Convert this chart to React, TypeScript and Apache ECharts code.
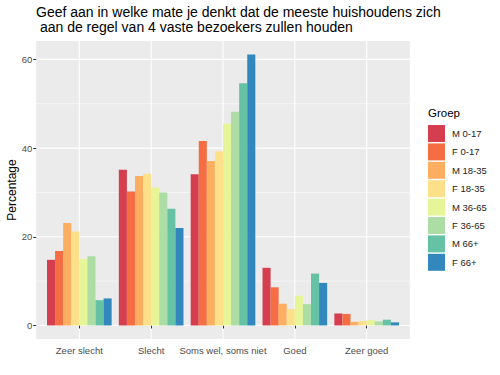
import React, { useEffect, useRef } from "react";
import * as echarts from "echarts";

const categories = ["Zeer slecht", "Slecht", "Soms wel, soms niet", "Goed", "Zeer goed"];
const groups = ["M 0-17", "F 0-17", "M 18-35", "F 18-35", "M 36-65", "F 36-65", "M 66+", "F 66+"];
const palette = ["#D53E4F", "#F46D43", "#FDAE61", "#FEE08B", "#E6F598", "#ABDDA4", "#66C2A5", "#3288BD"];

const m0_17 = [14.8, 35.1, 34.1, 13.0, 2.7];
const f0_17 = [16.8, 30.2, 41.6, 8.6, 2.6];
const m18_35 = [23.1, 33.7, 37.1, 4.9, 0.8];
const f18_35 = [21.2, 34.2, 39.3, 3.7, 1.0];
const m36_65 = [15.0, 31.1, 45.5, 6.7, 1.2];
const f36_65 = [15.6, 30.0, 48.2, 4.8, 0.9];
const m66 = [5.7, 26.3, 54.6, 11.7, 1.3];
const f66 = [6.1, 22.0, 61.1, 9.6, 0.7];

const seriesValues = [m0_17, f0_17, m18_35, f18_35, m36_65, f36_65, m66, f66];

const yMajorTicks = [0, 20, 40, 60];
const yMinorTicks = [10, 30, 50];

const titleLine1 = "Geef aan in welke mate je denkt dat de meeste huishoudens zich";
const titleLine2 = "\u00a0aan de regel van 4 vaste bezoekers zullen houden";
const yTitle = "Percentage";
const legendTitle = "Groep";

const FONT = "'Liberation Sans', Arial, Helvetica, sans-serif";

export default function App() {
  const ref = useRef<HTMLDivElement>(null);

  useEffect(() => {
    document.body.style.margin = "0";
    if (!ref.current) return;
    const chart = echarts.init(ref.current, undefined, { renderer: "svg" });

    const maxVal = Math.max(...seriesValues.flat());
    const pad = maxVal * 0.05;
    const yMin = -pad;
    const yMax = maxVal + pad;

    const gridLeft = 43.4;
    const gridWidth = 359.2;
    const band = gridWidth / categories.length;

    chart.setOption({
      animation: false,
      backgroundColor: "#ffffff",
      textStyle: { fontFamily: FONT },
      grid: { left: gridLeft, width: gridWidth, top: 41, height: 298, containLabel: false },
      xAxis: {
        type: "category",
        data: categories,
        axisLine: { show: false },
        axisTick: { show: true, alignWithLabel: true, length: 3, lineStyle: { color: "#333333", width: 1 } },
        axisLabel: { color: "#4D4D4D", fontSize: 9.5, margin: 6, fontFamily: FONT, interval: 0 },
        splitLine: { show: false },
      },
      yAxis: {
        type: "value",
        min: yMin,
        max: yMax,
        offset: band * 0.1,
        axisLine: { show: false },
        axisTick: { show: true, length: 3, customValues: yMajorTicks, lineStyle: { color: "#333333", width: 1 } },
        axisLabel: { color: "#4D4D4D", fontSize: 9.5, margin: 4, customValues: yMajorTicks, fontFamily: FONT },
        splitLine: { show: false },
      },
      legend: {
        orient: "vertical",
        left: 428,
        top: 125,
        padding: 0,
        itemWidth: 17,
        itemHeight: 17,
        itemGap: 1.4,
        icon: "rect",
        data: groups,
        textStyle: { fontSize: 9.5, color: "#222222", fontFamily: FONT, padding: [0, 0, 0, 2] },
      },
      series: groups.map((g, i) => ({
        type: "bar",
        name: g,
        data: seriesValues[i],
        barGap: "0%",
        barCategoryGap: "10%",
        itemStyle: { color: palette[i] },
        z: 5,
      })),
    });

    const c0 = chart.convertToPixel({ xAxisIndex: 0 }, categories[0]) as number;
    const cN = chart.convertToPixel({ xAxisIndex: 0 }, categories[categories.length - 1]) as number;
    const unit = (cN - c0) / (categories.length - 1);
    const pLeft = c0 - 0.6 * unit;
    const pRight = cN + 0.6 * unit;
    const pTop = chart.convertToPixel({ yAxisIndex: 0 }, yMax) as number;
    const pBottom = chart.convertToPixel({ yAxisIndex: 0 }, yMin) as number;

    const elements: any[] = [];
    elements.push({
      type: "rect",
      z: -10,
      shape: { x: pLeft, y: pTop, width: pRight - pLeft, height: pBottom - pTop },
      style: { fill: "#EBEBEB" },
      silent: true,
    });
    yMinorTicks.forEach((v) => {
      const y = chart.convertToPixel({ yAxisIndex: 0 }, v) as number;
      elements.push({
        type: "line",
        z: -9,
        shape: { x1: pLeft, y1: y, x2: pRight, y2: y },
        style: { stroke: "#ffffff", lineWidth: 0.55 },
        silent: true,
      });
    });
    yMajorTicks.forEach((v) => {
      const y = chart.convertToPixel({ yAxisIndex: 0 }, v) as number;
      elements.push({
        type: "line",
        z: -8,
        shape: { x1: pLeft, y1: y, x2: pRight, y2: y },
        style: { stroke: "#ffffff", lineWidth: 1.1 },
        silent: true,
      });
    });
    categories.forEach((c) => {
      const x = chart.convertToPixel({ xAxisIndex: 0 }, c) as number;
      elements.push({
        type: "line",
        z: -8,
        shape: { x1: x, y1: pTop, x2: x, y2: pBottom },
        style: { stroke: "#ffffff", lineWidth: 1.1 },
        silent: true,
      });
    });
    elements.push({
      type: "text",
      x: 36,
      y: 12.2,
      style: { text: titleLine1, font: `14px ${FONT}`, fill: "#000000", textAlign: "left", textVerticalAlign: "middle" },
      silent: true,
    });
    elements.push({
      type: "text",
      x: 36,
      y: 26.6,
      style: { text: titleLine2, font: `14px ${FONT}`, fill: "#000000", textAlign: "left", textVerticalAlign: "middle" },
      silent: true,
    });
    elements.push({
      type: "text",
      x: 11.5,
      y: (pTop + pBottom) / 2,
      rotation: Math.PI / 2,
      style: { text: yTitle, font: `12px ${FONT}`, fill: "#000000", textAlign: "center", textVerticalAlign: "middle" },
      silent: true,
    });
    elements.push({
      type: "text",
      x: 428,
      y: 113,
      style: { text: legendTitle, font: `11.5px ${FONT}`, fill: "#000000", textAlign: "left", textVerticalAlign: "middle" },
      silent: true,
    });

    chart.setOption({ graphic: { elements } });

    return () => chart.dispose();
  }, []);

  return <div ref={ref} style={{ width: 500, height: 375 }} />;
}
